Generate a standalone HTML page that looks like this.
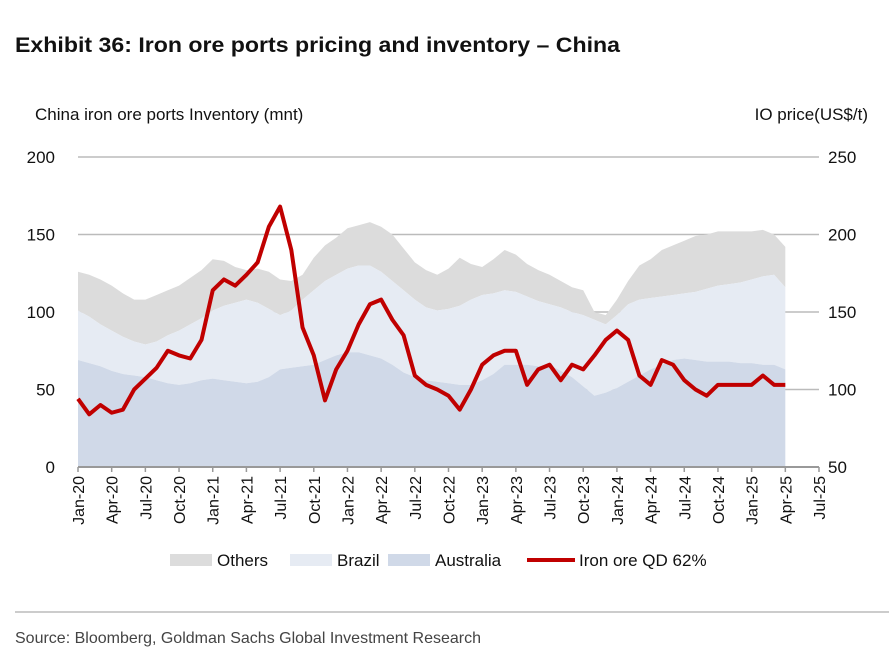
<!DOCTYPE html>
<html><head><meta charset="utf-8"><style>
body{margin:0;background:#fff;font-family:"Liberation Sans",sans-serif;}
</style></head><body>
<svg width="889" height="653" xmlns="http://www.w3.org/2000/svg" font-family="Liberation Sans, sans-serif">
<text x="15" y="52" font-size="21" font-weight="bold" fill="#111" textLength="605" lengthAdjust="spacingAndGlyphs">Exhibit 36: Iron ore ports pricing and inventory – China</text>
<text x="35" y="120" font-size="17" fill="#111">China iron ore ports Inventory (mnt)</text>
<text x="868" y="120" font-size="17" fill="#111" text-anchor="end">IO price(US$/t)</text>
<g id="grid"></g>
<g id="areas"></g>
<g id="axes"></g>
<path id="line" fill="none" stroke="#c00000" stroke-width="4" stroke-linejoin="round"/>
<g id="legend"></g>
<line x1="15" y1="612" x2="889" y2="612" stroke="#999" stroke-width="1"/>
<text x="15" y="643" font-size="16" fill="#444">Source: Bloomberg, Goldman Sachs Global Investment Research</text>
</svg>
<script>
const australia=[69,67,65,62,60,59,58,56,54,53,54,56,57,56,55,54,55,58,63,64,65,66,69,72,74,74,72,70,66,61,58,56,55,54,53,53,56,60,66,66,66,65,66,62,58,52,46,48,51,55,59,63,66,69,70,69,68,68,68,67,67,66,66,63];
const brazilTop=[101,97,92,88,84,81,79,81,85,88,92,96,101,104,106,108,106,102,98,101,108,114,120,124,128,130,130,126,120,114,108,103,101,102,104,108,111,112,114,113,110,107,105,103,100,98,95,92,98,105,108,109,110,111,112,113,115,117,118,119,121,123,124,116];
const othersTop=[126,124,121,117,112,108,108,111,114,117,122,127,134,133,129,127,128,126,121,120,124,135,143,148,154,156,158,155,150,141,132,127,124,128,135,131,129,134,140,137,131,127,124,120,116,114,100,98,108,120,130,134,140,143,146,149,150,152,152,152,152,153,150,142];
const price=[94,84,90,85,87,100,107,114,125,122,120,132,164,171,167,174,182,205,218,190,140,122,93,113,125,142,155,158,145,135,109,103,100,96,87,100,116,122,125,125,103,113,116,106,116,113,122,132,138,132,109,103,119,116,106,100,96,103,103,103,103,109,103,103];
const leftTicks=[0,50,100,150,200];
const rightTicks=[50,100,150,200,250];
const xLabels=["Jan-20","Apr-20","Jul-20","Oct-20","Jan-21","Apr-21","Jul-21","Oct-21","Jan-22","Apr-22","Jul-22","Oct-22","Jan-23","Apr-23","Jul-23","Oct-23","Jan-24","Apr-24","Jul-24","Oct-24","Jan-25","Apr-25","Jul-25"];
const NS="http://www.w3.org/2000/svg";
const X0=78,X1=819,Y0=467,Y1=157;
const xm=m=>X0+(X1-X0)*m/66;
const yl=v=>Y0-(Y0-Y1)*v/200;
const yr=v=>Y0-(Y0-Y1)*(v-50)/200;
function mk(t,a,p){const e=document.createElementNS(NS,t);for(const k in a)e.setAttribute(k,a[k]);p.appendChild(e);return e;}
const grid=document.getElementById('grid'),axes=document.getElementById('axes'),areas=document.getElementById('areas'),leg=document.getElementById('legend');
leftTicks.forEach((v,i)=>{
 if(v>0){const g=mk('line',{x1:X0,x2:X1,y1:yl(v),y2:yl(v),stroke:'#bbb','stroke-width':1.5},grid);
 
 }
 const t=mk('text',{x:55,y:yl(v)+6,'font-size':17,'text-anchor':'end',fill:'#111'},axes);t.textContent=v;
 
 
 const r=mk('text',{x:828,y:yr(rightTicks[i])+6,'font-size':17,fill:'#111'},axes);r.textContent=rightTicks[i];
 
 
});
function area(top,bot,fill,name){
 let d='M'+xm(0)+','+yl(top[0]);
 top.forEach((v,i)=>d+='L'+xm(i)+','+yl(v));
 for(let i=bot.length-1;i>=0;i--)d+='L'+xm(i)+','+yl(bot[i]);
 const p=mk('path',{d:d+'Z',fill:fill},areas);
 
 
}
const zeros=australia.map(()=>0);
area(othersTop,brazilTop,'#dcdcdc','others-area');
area(brazilTop,australia,'#e6ebf3','brazil-area');
area(australia,zeros,'#d0d9e8','australia-area');
const ax=mk('line',{x1:X0,x2:X1,y1:Y0,y2:Y0,stroke:'#999','stroke-width':2},axes);


xLabels.forEach((l,i)=>{
 const x=xm(i*3);
 mk('line',{x1:x,x2:x,y1:Y0,y2:Y0+5,stroke:'#999','stroke-width':1.5},axes);
 const t=mk('text',{x:0,y:0,'font-size':16,'text-anchor':'end',fill:'#111',transform:`translate(${x+6},${Y0+9}) rotate(-90)`},axes);t.textContent=l;
 
 
});
let d='';price.forEach((v,i)=>d+=(i?'L':'M')+xm(i)+','+yr(v));
document.getElementById('line').setAttribute('d',d);
const items=[['Others','#dcdcdc',170],['Brazil','#e6ebf3',290],['Australia','#d0d9e8',388]];
items.forEach(([n,c,x])=>{
 const r=mk('rect',{x:x,y:554,width:42,height:12,fill:c},leg);
 
 
 const t=mk('text',{x:x+47,y:566,'font-size':17,fill:'#111'},leg);t.textContent=n;
 
 
});
const ll=mk('line',{x1:527,x2:575,y1:560,y2:560,stroke:'#c00000','stroke-width':4},leg);


const lt=mk('text',{x:579,y:566,'font-size':17,fill:'#111'},leg);lt.textContent='Iron ore QD 62%';


</script>
</body></html>
